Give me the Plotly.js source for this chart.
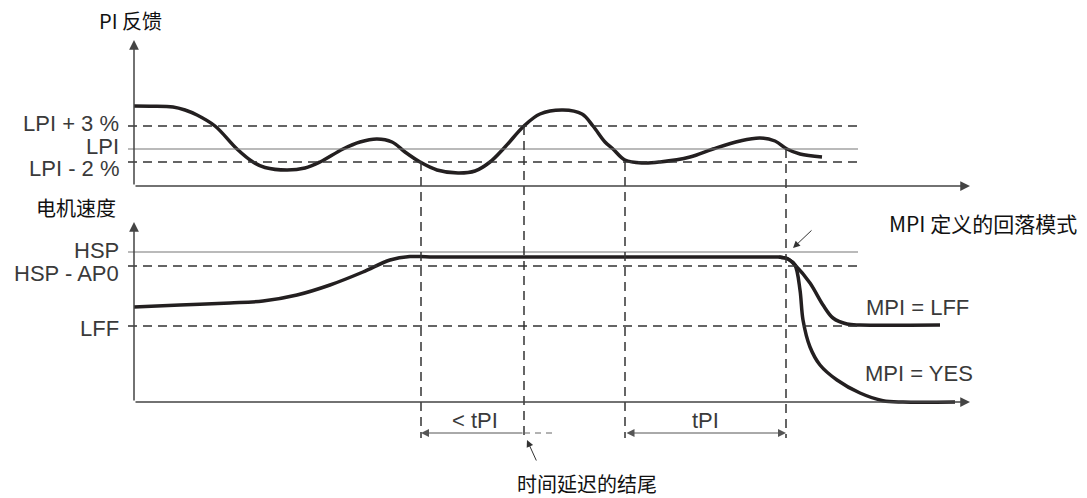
<!DOCTYPE html>
<html>
<head>
<meta charset="utf-8">
<script src="https://cdn.plot.ly/plotly-3.0.1.min.js"></script>
<style>html,body{margin:0;padding:0;background:#fff;}#chart{width:1087px;height:498px;}</style>
</head>
<body>
<div id="chart"></div>
<script>
// ---- time axis (arbitrary units) ----
const timeAxisEnd = 83.6;

// ---- PI feedback (top panel) ----
const piLevelLabels = ['LPI + 3 %', 'LPI', 'LPI - 2 %'];
const piLevelValues = [6.0, 3.7, 2.4];
const piLevelDashed = [true, false, true];
const piAxisTop = 14.6;

const piTime = [0, 1.6, 3.9, 5.1, 6.3, 8.1, 10.3, 11.9, 13.1, 15.3, 17.1, 18.6, 20.9, 22.6, 24.3, 25.8, 27.1, 28.6, 30.3, 32.4, 34.1, 35.6, 37.1, 39.0, 40.6, 42.9, 44.8, 45.9, 47.1, 47.9, 49.1, 50.9, 52.6, 55.6, 57.9, 60.6, 62.6, 64.1, 65.3, 66.6, 68.8];
const piValue = [8.0, 7.97, 7.9, 7.6, 7.1, 6.0, 3.7, 2.4, 1.85, 1.6, 1.8, 2.4, 3.7, 4.4, 4.7, 4.4, 3.4, 2.4, 1.6, 1.3, 1.5, 2.4, 3.9, 6.0, 7.2, 7.6, 7.2, 6.0, 4.4, 3.7, 2.6, 2.3, 2.4, 2.9, 3.7, 4.5, 4.8, 4.5, 3.7, 3.2, 2.9];

// ---- motor speed (bottom panel) ----
const speedLevelLabels = ['HSP', 'HSP - AP0', 'LFF'];
const speedLevelValues = [15.0, 13.6, 7.6];
const speedLevelDashed = [false, true, true];
const speedAxisTop = 18.0;

const speedTime = [0, 4.6, 9.6, 12.9, 16.3, 19.6, 22.9, 25.6, 27.6, 29.6, 45, 64.5];
const speedValue = [9.5, 9.7, 9.9, 10.1, 10.7, 11.7, 13.0, 14.2, 14.55, 14.5, 14.5, 14.5];

const lffTime = [64.5, 65.4, 66.1, 67.6, 68.9, 69.9, 71.3, 72.6, 80.6];
const lffValue = [14.5, 14.3, 13.7, 11.9, 9.7, 8.4, 7.8, 7.7, 7.7];

const yesTime = [64.5, 65.4, 66.1, 66.6, 66.9, 67.6, 68.6, 70.3, 72.6, 74.9, 76.9, 82.1];
const yesValue = [14.5, 14.3, 13.7, 11.2, 8.2, 5.5, 3.7, 2.2, 0.9, 0.13, 0, 0];

// ---- timing markers ----
const markTime = [28.7, 39.0, 49.1, 65.2];
const markLevel = ['LPI - 2 %', 'LPI + 3 %', 'LPI - 2 %', 'LPI'];
const markBottomSpeed = -3.6;
const dimSpeed = -3.1;
const dimExtraEnd = 41.8;

// ---- axes ranges (both y axes overlay the whole plot) ----
const xRange = [-13.4, 95.3];
const piRange = [-31.2, 18.6];
const speedRange = [-9.6, 40.2];
const speedToPi = piRange[0] - speedRange[0];

const curveColor = '#231f20';
const refDash = '9px,6px';
const latinFont = {family: 'Liberation Sans, Arial, sans-serif', size: 22, color: '#3a3a3a'};
const cjkFont = {family: 'Noto Sans CJK SC, sans-serif', size: 20, color: '#111'};

const traces = [
  {x: piTime, y: piValue, yaxis: 'y', mode: 'lines', line: {color: curveColor, width: 3.5, shape: 'spline', smoothing: 1}, hoverinfo: 'skip'},
  {x: speedTime, y: speedValue, yaxis: 'y2', mode: 'lines', line: {color: curveColor, width: 3.5, shape: 'spline', smoothing: 1}, hoverinfo: 'skip'},
  {x: lffTime, y: lffValue, yaxis: 'y2', mode: 'lines', line: {color: curveColor, width: 3.5, shape: 'spline', smoothing: 0.9}, hoverinfo: 'skip'},
  {x: yesTime, y: yesValue, yaxis: 'y2', mode: 'lines', line: {color: curveColor, width: 3.5, shape: 'spline', smoothing: 0.9}, hoverinfo: 'skip'}
];

const shapes = [];
const refStart = -0.6, refEnd = 72.4;
piLevelValues.forEach((v, i) => {
  shapes.push({type: 'line', xref: 'x', yref: 'y', x0: refStart, x1: refEnd, y0: v, y1: v,
    line: piLevelDashed[i] ? {color: '#333', width: 1.5, dash: refDash} : {color: '#777', width: 1.2}});
});
speedLevelValues.forEach((v, i) => {
  shapes.push({type: 'line', xref: 'x', yref: 'y2', x0: refStart, x1: refEnd, y0: v, y1: v,
    line: speedLevelDashed[i] ? {color: '#333', width: 1.5, dash: refDash} : {color: '#777', width: 1.2}});
});
markTime.forEach((t, i) => {
  const top = piLevelValues[piLevelLabels.indexOf(markLevel[i])];
  shapes.push({type: 'line', xref: 'x', yref: 'y', x0: t, x1: t, y0: top, y1: markBottomSpeed + speedToPi,
    line: {color: '#333', width: 1.5, dash: refDash}});
});
shapes.push({type: 'line', xref: 'x', yref: 'y2', x0: markTime[1], x1: dimExtraEnd, y0: dimSpeed, y1: dimSpeed,
  line: {color: '#666', width: 1, dash: '6px,5px'}});

function arrow(xref, yref, x, y, ax, ay, opts) {
  return Object.assign({xref: xref, yref: yref, axref: xref, ayref: yref, x: x, y: y, ax: ax, ay: ay,
    text: '', showarrow: true, arrowhead: 2, arrowsize: 1.3, arrowwidth: 1.5, arrowcolor: '#444', standoff: 0, startstandoff: 0}, opts || {});
}
function label(xref, yref, x, y, text, font, xanchor) {
  return {xref: xref, yref: yref, x: x, y: y, text: text, showarrow: false, font: font, xanchor: xanchor || 'center', yanchor: 'middle'};
}

// level labels (left of the vertical axes), small vertical nudges as in the drawing
const piLabelShift = [3, 3, -6];
const speedLabelShift = [1.5, -7, -2];

const annotations = [
  // axes
  arrow('x', 'y', 0, piAxisTop, 0, 0),
  arrow('x', 'y', timeAxisEnd, 0, 0, 0),
  arrow('x', 'y2', 0, speedAxisTop, 0, 0),
  arrow('x', 'y2', timeAxisEnd, 0, 0, 0),
  // dimension arrows
  arrow('x', 'y2', markTime[0], dimSpeed, markTime[1], dimSpeed, {arrowwidth: 1, arrowcolor: '#555', arrowsize: 1.6}),
  arrow('x', 'y2', markTime[3], dimSpeed, markTime[2], dimSpeed, {arrowwidth: 1, arrowcolor: '#555', arrowsize: 1.6, arrowside: 'end+start'}),
  // pointer arrows
  arrow('x', 'y2', 65.9, 15.4, 67.9, 17.3, {arrowwidth: 1, arrowcolor: '#333', arrowsize: 1.4}),
  arrow('x', 'y2', 39.3, -3.8, 40.3, -6.0, {arrowwidth: 1, arrowcolor: '#333', arrowsize: 1.4}),
  // labels
  label('x', 'y', -0.4, 16.6, 'PI 反馈', cjkFont),
  label('x', 'y2', -5.8, 19.5, '电机速度', cjkFont),
  label('x', 'y2', 75.3, 17.9, 'MPI 定义的回落模式', Object.assign({}, cjkFont, {size: 21}), 'left'),
  label('x', 'y2', 73.0, 9.5, 'MPI = LFF', latinFont, 'left'),
  label('x', 'y2', 72.9, 2.9, 'MPI = YES', latinFont, 'left'),
  label('x', 'y2', 34.1, -1.8, '&lt; tPI', latinFont),
  label('x', 'y2', 57.1, -1.8, 'tPI', latinFont),
  label('x', 'y2', 45.3, -8.1, '时间延迟的结尾', cjkFont)
];
piLevelLabels.forEach((txt, i) => {
  annotations.push(Object.assign(label('x', 'y', 0, piLevelValues[i], txt, latinFont, 'right'), {xshift: -13, yshift: piLabelShift[i]}));
});
speedLevelLabels.forEach((txt, i) => {
  annotations.push(Object.assign(label('x', 'y2', 0, speedLevelValues[i], txt, latinFont, 'right'), {xshift: -13, yshift: speedLabelShift[i]}));
});

const layout = {
  width: 1087, height: 498,
  margin: {l: 0, r: 0, t: 0, b: 0, pad: 0},
  paper_bgcolor: '#fff', plot_bgcolor: '#fff',
  showlegend: false,
  xaxis: {range: xRange, visible: false, fixedrange: true},
  yaxis: {range: piRange, visible: false, fixedrange: true},
  yaxis2: {range: speedRange, overlaying: 'y', visible: false, fixedrange: true},
  shapes: shapes,
  annotations: annotations
};

Plotly.newPlot('chart', traces, layout, {staticPlot: true, displayModeBar: false});
</script>
</body>
</html>
